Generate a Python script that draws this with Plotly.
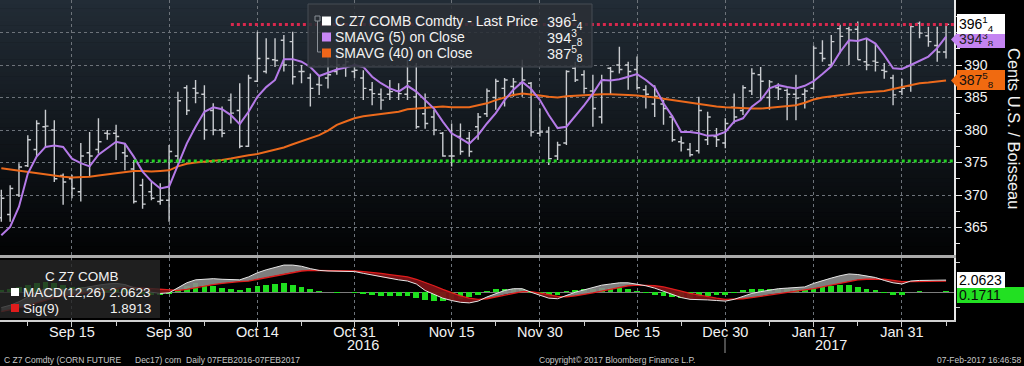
import pandas as pd
import plotly.graph_objects as go

# ---------------- data ----------------
holidays = ["2016-09-05", "2016-11-24", "2016-12-26", "2017-01-02", "2017-01-16"]
dates = [d for d in pd.bdate_range("2016-09-02", "2017-02-07")
         if d.strftime("%Y-%m-%d") not in holidays]
date_keys = [d.strftime("%Y-%m-%d") for d in dates]

opens = [366.5, 367, 370, 374.5, 377, 380.5, 380, 373,
         372.5, 370.5, 376.5, 377, 379.5, 379.5, 376.5, 374, 371.5, 370.5,
         369, 369.2, 376, 386.5, 386.4, 385.5, 383, 380, 384.6, 383,
         377.5, 387.5, 389, 390.8, 393.8, 393.6, 389, 388, 387, 388,
         389, 390, 389, 388, 386.2, 385.5, 385.5, 386, 385.5, 385.1,
         382.5, 382, 379.5, 376, 379, 378.7, 380.5, 382.5, 385, 386.4,
         386.7, 387.2, 387.2, 379.5, 379.7, 376, 378, 389.5, 388.5, 386,
         382, 389.5, 390, 390, 389.3, 386.2, 384, 384, 382, 378.2,
         377, 376.8, 378.5, 379, 378, 383.5, 383, 386, 388.5, 385,
         386.5, 386.1, 385.5, 385.5, 386.4, 391.8, 390, 395.6, 395.6, 395.5,
         390.5, 390.6, 389.2, 388, 385.9, 386.8, 396.4, 394.5, 393, 392]
highs = [370.8, 371.5, 374.9, 379.2, 381.5, 383.1, 381.5, 373.3,
         373.1, 378, 379.7, 381.8, 380, 380.8, 378, 375.4, 372.5, 372,
         371.8, 377.7, 385.9, 386.9, 387.7, 386.9, 384.1, 383.6, 385.6, 387.2,
         388.5, 395.1, 394.1, 394.1, 394.6, 395.1, 390, 388.7, 388.2, 392.3,
         392, 391.3, 390.3, 389.2, 387.4, 386.4, 387.7, 387.2, 390.8, 390.3,
         385.6, 383.1, 379.7, 381, 381, 379.7, 382.6, 386.4, 387.9, 388,
         388, 390.8, 387.4, 383.3, 380.5, 378.2, 389.2, 390.5, 389.2, 388.5,
         388.5, 389.7, 392.8, 390.5, 391.3, 386.9, 386.9, 384.6, 382.3, 379,
         378, 385.1, 382.8, 380.3, 381.8, 385.6, 386.9, 389.5, 389.7, 387.7,
         387.2, 386.4, 388.5, 386.4, 393, 393.8, 394.6, 396.2, 395.9, 396.7,
         394.1, 393.3, 390.3, 388.5, 387.9, 396.2, 396.7, 395.9, 395.9, 396.4]
lows = [365.9, 365.9, 369.7, 374.3, 375.9, 377.4, 372, 368.5,
        369.5, 369, 372.8, 376.4, 378.5, 375.4, 373.8, 368.7, 367.9, 369.2,
        368.5, 365.9, 374.9, 382.3, 384.1, 378.5, 379.2, 378.9, 381, 377.2,
        377.4, 387.4, 388.7, 389.7, 389, 387, 387.2, 383.6, 385.4, 386.4,
        388.5, 388.2, 388, 384.6, 383.8, 383.1, 384.6, 384.6, 384.6, 380.2,
        380.2, 379.2, 375.9, 374.4, 376.2, 375.9, 378.5, 382, 383.1, 383.6,
        385.1, 385.1, 379, 379, 374.6, 375.4, 377.7, 387.4, 385.6, 380.5,
        381, 385.4, 388.7, 386.2, 386.2, 383.3, 382, 380.8, 378.2, 376.7,
        375.9, 376.4, 377.7, 377.4, 377.2, 381, 382.3, 385.4, 384.6, 383.1,
        384.6, 381.5, 381.5, 383.3, 386.2, 390.5, 389.7, 391.8, 390, 390.8,
        389.2, 389, 387.9, 383.8, 385.4, 385.9, 394.1, 392.8, 390.5, 391]
closes = [369.5, 371, 374.3, 378.5, 381, 380.6, 372.5, 372,
          371, 376, 376, 378.2, 379.4, 379, 376, 369, 368.6, 369.5,
          369.2, 376.7, 384.5, 383, 385.7, 380, 380, 379.5, 382.6, 377.5,
          388, 391, 391, 390.7, 390, 388.2, 389, 386.4, 386.9, 388.5,
          390, 390.5, 389.2, 386.4, 385.6, 384.6, 385.9, 385.6, 387.5, 380.5,
          381, 380, 376, 376, 376.7, 376.7, 382, 386, 387.5, 387.7,
          387.4, 387.7, 379.7, 379.7, 375.6, 377.7, 389, 387.7, 386.4, 383.3,
          387.7, 389, 389.3, 389, 386.5, 385.5, 385.2, 383.3, 378.5, 378,
          376.2, 383, 382, 378.5, 381, 382, 386.5, 388.7, 387.5, 387.4,
          386.3, 385.5, 384.9, 386, 392.6, 391, 393.6, 394.4, 395.4, 390.8,
          390, 390.4, 389, 385.4, 386.4, 395.9, 394.9, 393.6, 392, 396.25]
sma5 = [363.8, 365.1, 368.2, 373.3, 375.9, 377.4, 377.6, 377.4,
        375.6, 374.9, 374.4, 376.2, 377.2, 378.2, 377.9, 375.9, 373.6, 372.1,
        371, 371.3, 374.6, 377.9, 380.5, 382.8, 383.5, 383.2, 382.3, 380.9,
        382.8, 385.1, 386.6, 387.7, 390.9, 390.9, 390.5, 389.7, 388.3, 388.8,
        389.3, 389.6, 390, 389.7, 388.2, 387.2, 386.4, 385.9, 386.8, 385.9,
        384.6, 383.3, 381.3, 379.5, 378.7, 377.9, 379.2, 381, 382.6, 384.6,
        386.2, 387.4, 386.3, 384.6, 382.3, 380.3, 380.5, 382.1, 383.8, 385.6,
        387.7, 387.6, 387.8, 388.2, 388.6, 387.7, 386.6, 384.1, 382.1, 379.7,
        379.7, 379.5, 379.1, 379.2, 379.7, 381.3, 381.8, 383.6, 384.6, 386.4,
        386.9, 386.6, 386.4, 386.8, 387.5, 388.6, 389.8, 392, 393.8, 393.7,
        394.1, 393.3, 391.5, 389.5, 389.4, 390, 390.6, 391.3, 392.6, 394.375]
sma40 = [374.1, 373.9, 373.7, 373.5, 373.3, 373.1, 372.9, 372.8,
         372.7, 372.7, 372.8, 373, 373.2, 373.4, 373.6, 373.7, 373.7, 373.6,
         373.7, 373.8, 374.4, 374.8, 375, 375.1, 375.2, 375.4, 375.6, 375.9,
         376.1, 376.3, 376.6, 376.9, 377.3, 377.8, 378.3, 378.7, 379.2, 379.9,
         380.8, 381.3, 381.8, 382.1, 382.3, 382.5, 382.6, 382.8, 383.2, 383.3,
         383.5, 383.6, 383.6, 383.5, 383.5, 383.5, 383.8, 384.1, 384.6, 385,
         385.4, 385.6, 385.5, 385.3, 385.1, 385, 385.2, 385.3, 385.4, 385.5,
         385.5, 385.5, 385.5, 385.4, 385.3, 385.2, 385, 384.8, 384.6, 384.4,
         384.1, 383.9, 383.7, 383.6, 383.5, 383.4, 383.3, 383.3, 383.3, 383.4,
         383.5, 383.6, 383.8, 384.2, 384.7, 385, 385.2, 385.4, 385.5, 385.7,
         385.8, 385.9, 386, 386.3, 386.6, 387, 387.2, 387.3, 387.5, 387.625]
macd = [-2.6, -2.2, -1.6, -0.8, 0.0, 0.6, 0.6, 0.5,
        0.4, 0.7, 0.9, 1.2, 1.4, 1.5, 1.3, 0.8, 0.3, 0.0,
        -0.2, -0.1, 0.8, 1.6, 2.1, 2.2, 2.3, 2.2, 2.2, 2.1,
        2.6, 3.3, 3.8, 4.2, 4.6, 4.6, 4.4, 4.0, 3.7, 3.6,
        3.6, 3.6, 3.5, 3.2, 2.9, 2.6, 2.3, 2.1, 1.9, 1.4,
        0.3, -0.4, -1.0, -1.4, -1.7, -1.8, -1.5, -0.8, -0.2, 0.3,
        0.6, 0.6, 0.0, -0.5, -1.0, -1.1, -0.5, 0.0, 0.4, 0.8,
        1.2, 1.4, 1.6, 1.6, 1.4, 1.1, 0.7, 0.2, -0.4, -0.9,
        -1.2, -1.2, -1.3, -1.4, -1.5, -1.2, -0.7, -0.2, 0.1, 0.4,
        0.6, 0.7, 0.8, 0.9, 1.5, 2.0, 2.4, 2.8, 3.1, 3.0,
        2.8, 2.5, 2.0, 1.6, 1.4, 1.9, 2.0, 2.0, 2.0, 2.0623]
signal = [-3.3, -3.0, -2.7, -2.3, -1.8, -1.3, -0.9, -0.6,
          -0.4, -0.2, 0.0, 0.3, 0.5, 0.7, 0.8, 0.8, 0.7, 0.55,
          0.4, 0.3, 0.3, 0.5, 0.8, 1.1, 1.3, 1.5, 1.7, 1.8,
          1.9, 2.2, 2.5, 2.8, 3.1, 3.4, 3.6, 3.7, 3.7, 3.7,
          3.7, 3.6, 3.6, 3.5, 3.4, 3.2, 3.0, 2.8, 2.6, 2.2,
          1.7, 1.1, 0.5, -0.1, -0.6, -1.0, -1.2, -1.1, -0.8, -0.4,
          -0.1, 0.1, 0.1, -0.1, -0.4, -0.7, -0.8, -0.6, -0.4, -0.1,
          0.2, 0.5, 0.8, 1.1, 1.2, 1.2, 1.1, 0.9, 0.6, 0.2,
          -0.2, -0.5, -0.8, -1.0, -1.2, -1.2, -1.1, -0.9, -0.7, -0.4,
          -0.2, 0.0, 0.2, 0.4, 0.6, 0.9, 1.2, 1.5, 1.8, 2.1,
          2.2, 2.2, 2.2, 2.0, 1.8, 1.8, 1.85, 1.9, 1.9, 1.8913]
hist = [0.3, 0.6, 0.9, 1.2, 1.5, 1.7, 1.5, 1.2,
        0.9, 0.9, 0.9, 0.9, 0.9, 0.8, 0.5, 0.1, -0.3, -0.5,
        -0.5, -0.3, 0.5, 1.1, 1.6, 1.3, 1.0, 0.8, 0.6, 0.3,
        0.7, 1.1, 1.3, 1.4, 1.5, 1.3, 0.9, 0.5, 0.2, 0.0,
        -0.05, 0.0, -0.05, -0.3, -0.5, -0.6, -0.7, -0.7, -0.7, -1.0,
        -1.3, -1.4, -1.4, -1.3, -1.1, -0.8, -0.4, 0.2, 0.5, 0.6,
        0.6, 0.5, -0.1, -0.4, -0.6, -0.5, 0.2, 0.4, 0.5, 0.6,
        0.7, 0.7, 0.7, 0.5, 0.2, -0.1, -0.4, -0.6, -0.8, -0.9,
        -0.9, -0.8, -0.6, -0.5, -0.4, -0.1, 0.3, 0.5, 0.6, 0.6,
        0.6, 0.6, 0.5, 0.5, 0.8, 1.0, 1.1, 1.2, 1.3, 0.9,
        0.6, 0.3, -0.1, -0.4, -0.4, 0.1, 0.15, 0.1, 0.1, 0.1711]

tick_dates = ["2016-09-15", "2016-09-30", "2016-10-14", "2016-10-31", "2016-11-15",
              "2016-11-30", "2016-12-15", "2016-12-30", "2017-01-17", "2017-01-31"]
tick_labels = ["Sep 15", "Sep 30", "Oct 14", "Oct 31", "Nov 15",
               "Nov 30", "Dec 15", "Dec 30", "Jan 17", "Jan 31"]
minor_dates = ["2016-09-08", "2016-09-22", "2016-10-06", "2016-10-21", "2016-11-07",
               "2016-11-22", "2016-12-07", "2016-12-22", "2017-01-09", "2017-01-24", "2017-02-07"]
year_labels = ["2016", "2017"]
year_label_dates = ["2016-11-01", "2017-01-19"]
price_ticks = [365, 370, 375, 380, 385, 390, 395]
price_minor = [362.5, 367.5, 372.5, 377.5, 382.5, 387.5, 392.5, 397.5]

resistance_level = 396.25
resistance_from = "2016-10-11"
support_level = 375.25
support_from = "2016-09-26"

# ---------------- helpers ----------------
xs = list(range(len(dates)))
pos = {k: i for i, k in enumerate(date_keys)}
X_RANGE = [-0.15, len(dates) - 0.1]
Y_RANGE = [360.77, 400.0]
M_RANGE = [-4.7, 5.8]

W_PLOT, H_PLOT = 954, 320


def px(xp):
    return xp / W_PLOT


def py(yp):
    return (H_PLOT - yp) / H_PLOT


def frac(v):
    whole = int(v)
    e = round((v - whole) * 8)
    if e == 0:
        return f"{whole}"
    n, d = e, 8
    while n % 2 == 0:
        n //= 2
        d //= 2
    return f"{whole}<sup>{n}</sup><sub>{d}</sub>"


FONT = "Liberation Sans, Arial, sans-serif"
WHITE = "#f2f2f2"
PURPLE = "#b57ae8"
ORANGE = "#ec6a1c"

fig = go.Figure()

# OHLC bars
fig.add_trace(go.Ohlc(
    x=xs, open=opens, high=highs, low=lows, close=closes,
    increasing=dict(line=dict(color="#c9ccd0", width=1.4)),
    decreasing=dict(line=dict(color="#c9ccd0", width=1.4)),
    tickwidth=0.35, hoverinfo="skip", showlegend=False,
    xaxis="x", yaxis="y"))

fig.add_trace(go.Scatter(x=xs, y=sma40, mode="lines",
                         line=dict(color=ORANGE, width=2), hoverinfo="skip",
                         showlegend=False, xaxis="x", yaxis="y"))
fig.add_trace(go.Scatter(x=xs, y=sma5, mode="lines",
                         line=dict(color=PURPLE, width=2), hoverinfo="skip",
                         showlegend=False, xaxis="x", yaxis="y"))

# support / resistance dotted lines
fig.add_trace(go.Scatter(x=[pos[resistance_from], X_RANGE[1]],
                         y=[resistance_level, resistance_level], mode="lines",
                         line=dict(color="#d8284e", width=3, dash="dot"),
                         hoverinfo="skip", showlegend=False, xaxis="x", yaxis="y"))
fig.add_trace(go.Scatter(x=[pos[support_from], X_RANGE[1]],
                         y=[support_level, support_level], mode="lines",
                         line=dict(color="#22d422", width=3, dash="dot"),
                         hoverinfo="skip", showlegend=False, xaxis="x", yaxis="y"))

# MACD fills between MACD and signal
up_x, up_y, dn_x, dn_y = [], [], [], []
for k in range(len(xs) - 1):
    x0, x1 = xs[k], xs[k + 1]
    a0, a1, b0, b1 = macd[k], macd[k + 1], signal[k], signal[k + 1]
    d0, d1 = a0 - b0, a1 - b1
    pieces = []
    if d0 * d1 < 0:
        t = d0 / (d0 - d1)
        xc = x0 + t * (x1 - x0)
        yc = a0 + t * (a1 - a0)
        pieces.append((x0, xc, a0, yc, b0, yc, d0))
        pieces.append((xc, x1, yc, a1, yc, b1, d1))
    else:
        pieces.append((x0, x1, a0, a1, b0, b1, d0 + d1))
    for (p0, p1, q0, q1, r0, r1, d) in pieces:
        tx = [p0, p1, p1, p0, p0, None]
        ty = [q0, q1, r1, r0, q0, None]
        if d >= 0:
            up_x += tx
            up_y += ty
        else:
            dn_x += tx
            dn_y += ty

fig.add_trace(go.Scatter(x=up_x, y=up_y, mode="lines", fill="toself",
                         fillcolor="rgba(140,140,140,0.9)", line=dict(width=0),
                         hoverinfo="skip", showlegend=False, xaxis="x2", yaxis="y2"))
fig.add_trace(go.Scatter(x=dn_x, y=dn_y, mode="lines", fill="toself",
                         fillcolor="rgba(125,18,22,0.95)", line=dict(width=0),
                         hoverinfo="skip", showlegend=False, xaxis="x2", yaxis="y2"))
fig.add_trace(go.Bar(x=xs, y=hist, marker=dict(color="#1fe01f", line=dict(width=0)),
                     width=0.65, hoverinfo="skip", showlegend=False,
                     xaxis="x2", yaxis="y2"))
fig.add_trace(go.Scatter(x=xs, y=signal, mode="lines",
                         line=dict(color="#e01c1c", width=1.3), hoverinfo="skip",
                         showlegend=False, xaxis="x2", yaxis="y2"))
fig.add_trace(go.Scatter(x=xs, y=macd, mode="lines",
                         line=dict(color="#e6e6e6", width=1), hoverinfo="skip",
                         showlegend=False, xaxis="x2", yaxis="y2"))

# ---------------- shapes ----------------
shapes = []
# gradient background of the price panel
N = 60
top, bot = py(0), py(255)
c_top = (34, 44, 54)
c_bot = (2, 3, 4)
for s in range(N):
    t = (s + 0.5) / N
    col = tuple(int(round(c_top[j] + (c_bot[j] - c_top[j]) * t)) for j in range(3))
    y1 = top - (top - bot) * s / N
    y0 = top - (top - bot) * (s + 1) / N
    shapes.append(dict(type="rect", xref="paper", yref="paper", x0=0, x1=1,
                       y0=y0 - 0.0005, y1=y1 + 0.0005, layer="below",
                       fillcolor=f"rgb{col}", line=dict(width=0)))

# main legend box
shapes.append(dict(type="rect", xref="paper", yref="paper",
                   x0=px(308), x1=px(592), y0=py(67), y1=py(4),
                   fillcolor="rgba(42,47,54,0.88)", line=dict(color="#474d55", width=1)))
# legend tree icon
shapes.append(dict(type="rect", xref="paper", yref="paper",
                   x0=px(315), x1=px(320), y0=py(21), y1=py(16),
                   fillcolor="rgba(0,0,0,0)", line=dict(color="#8a8f96", width=1)))
shapes.append(dict(type="line", xref="paper", yref="paper",
                   x0=px(317.5), x1=px(317.5), y0=py(21), y1=py(52),
                   line=dict(color="#8a8f96", width=1)))
shapes.append(dict(type="line", xref="paper", yref="paper",
                   x0=px(317.5), x1=px(321), y0=py(52), y1=py(52),
                   line=dict(color="#8a8f96", width=1)))
for yc, col in [(21, "#ffffff"), (37, "#c887f5"), (53, "#f0661a")]:
    shapes.append(dict(type="rect", xref="paper", yref="paper",
                       x0=px(322), x1=px(331), y0=py(yc + 4.5), y1=py(yc - 4.5),
                       fillcolor=col, line=dict(width=0)))

# MACD legend box
shapes.append(dict(type="rect", xref="paper", yref="paper",
                   x0=px(0), x1=px(160), y0=py(318), y1=py(260),
                   fillcolor="rgba(38,38,38,0.82)", line=dict(width=0)))
for yc, col in [(292, "#ffffff"), (308, "#e01c1c")]:
    shapes.append(dict(type="rect", xref="paper", yref="paper",
                       x0=px(11), x1=px(19), y0=py(yc + 4), y1=py(yc - 4),
                       fillcolor=col, line=dict(width=0)))

# year divider tick
shapes.append(dict(type="line", xref="paper", yref="paper",
                   x0=px(725), x1=px(725), y0=py(338), y1=py(353),
                   line=dict(color="#9a9a9a", width=1)))

# pointed tips on the left of the coloured value boxes
for yv, col, ys in [(sma40[-1], "#f06a10", 0), (sma5[-1], "#c484f2", -3)]:
    shapes.append(dict(type="path", xref="paper", yref="y", ysizemode="pixel",
                       yanchor=yv,
                       path=f"M {px(951)},{ys} L {px(957.5)},{ys - 7} L {px(957.5)},{ys + 7} Z",
                       fillcolor=col, line=dict(width=0)))

# ---------------- annotations ----------------
ann = []


def text(xp_, yp_, s, size, color=WHITE, anchor="left", family=FONT, **kw):
    ann.append(dict(x=px(xp_), y=py(yp_), xref="paper", yref="paper", text=s,
                    showarrow=False, xanchor=anchor, yanchor="middle",
                    font=dict(family=family, size=size, color=color), **kw))


# main legend
text(333, 21, "C Z7 COMB Comdty - Last Price", 14)
text(545, 22, frac(closes[-1]), 14.5)
text(333, 37, "SMAVG (5) on Close", 14)
text(545, 38, frac(sma5[-1]), 14.5)
text(333, 53, "SMAVG (40) on Close", 14)
text(545, 54, frac(sma40[-1]), 14.5)

# MACD legend
text(82, 276, "C Z7 COMB", 13.5, anchor="center")
text(21, 292, f"MACD(12,26) {macd[-1]:.4f}", 13.5)
text(21, 308, "Sig(9)", 13.5)
text(153, 308, f"{signal[-1]:.4f}", 13.5, anchor="right")

# y axis title
ann.append(dict(x=px(1014), y=py(128), xref="paper", yref="paper",
                text="Cents U.S. / Boisseau", textangle=90, showarrow=False,
                xanchor="center", yanchor="middle",
                font=dict(family=FONT, size=16.5, color=WHITE)))

# year labels
for lab, d in zip(year_labels, year_label_dates):
    ann.append(dict(x=pos[d], y=py(345), xref="x2", yref="paper", text=lab,
                    showarrow=False, xanchor="center", yanchor="middle",
                    font=dict(family=FONT, size=14.5, color=WHITE)))

# footer
text(2, 360, "C Z7 Comdty (CORN FUTURE", 8.5, color="#c8c8c8")
text(133, 360, "Dec17) corn  Daily 07FEB2016-07FEB2017", 8.5, color="#c8c8c8")
text(537, 360, "Copyright\u00a9 2017 Bloomberg Finance L.P.", 8.5, color="#c8c8c8")
text(1023, 360, "07-Feb-2017 16:46:58", 8.5, color="#c8c8c8", anchor="right")


# right-hand value boxes
def box(yval, yref, s, bg, fg, width, yshift=0, height=16):
    ann.append(dict(x=px(957), y=yval, xref="paper", yref=yref, text=s,
                    showarrow=False, xanchor="left", yanchor="middle",
                    yshift=yshift, bgcolor=bg, bordercolor=bg, borderpad=1,
                    width=width, height=height, align="left",
                    font=dict(family=FONT, size=14, color=fg)))


box(sma40[-1], "y", frac(sma40[-1]), "#f06a10", "#111111", 44, height=16)
box(sma5[-1], "y", frac(sma5[-1]), "#c484f2", "#222222", 44, yshift=-3, height=13)
box(closes[-1], "y", frac(closes[-1]), "#ffffff", "#000000", 44, height=16)
box(hist[-1], "y2", f"{hist[-1]:.4f}", "#22e022", "#0a0a0a", 63, yshift=-4, height=12)
box(macd[-1], "y2", f"{macd[-1]:.4f}", "#ffffff", "#000000", 44, height=12)

tickvals_main = [pos[d] for d in tick_dates]
minor_vals = [pos[d] for d in minor_dates]

grid = "#6d737a"
fig.update_layout(
    width=1024, height=366,
    margin=dict(l=0, r=70, t=0, b=46, pad=0),
    paper_bgcolor="#000000", plot_bgcolor="#000000",
    showlegend=False, bargap=0,
    hovermode=False,
    xaxis=dict(domain=[0, 1], range=X_RANGE, anchor="y",
               tickmode="array", tickvals=tickvals_main, showticklabels=False,
               ticks="", showgrid=True, gridcolor=grid, griddash="dot", gridwidth=1,
               showline=True, linecolor="#a9a9a9", linewidth=3,
               zeroline=False, rangeslider=dict(visible=False), fixedrange=True),
    yaxis=dict(domain=[py(255), 1], range=Y_RANGE, side="right", anchor="x",
               tickmode="array", tickvals=price_ticks,
               ticktext=[str(v) for v in price_ticks],
               ticks="outside", ticklen=6, tickcolor="#e8e8e8", tickwidth=1,
               minor=dict(tickvals=price_minor, ticks="outside", ticklen=4,
                          tickcolor="#e8e8e8", showgrid=False),
               tickfont=dict(family=FONT, size=14, color=WHITE),
               showgrid=True, gridcolor=grid, griddash="dot", gridwidth=1,
               showline=True, linecolor="#e8e8e8", linewidth=1.5,
               zeroline=False, fixedrange=True),
    xaxis2=dict(domain=[0, 1], range=X_RANGE, anchor="y2",
                tickmode="array", tickvals=tickvals_main, ticktext=tick_labels,
                ticks="outside", ticklen=5, tickcolor="#cfcfcf",
                ticklabelstandoff=-7,
                minor=dict(tickvals=minor_vals, ticks="outside", ticklen=4,
                           tickcolor="#cfcfcf", showgrid=False),
                tickfont=dict(family=FONT, size=14.5, color=WHITE),
                showgrid=True, gridcolor=grid, griddash="dot", gridwidth=1,
                showline=True, linecolor="#d0d0d0", linewidth=1.5,
                zeroline=False, fixedrange=True),
    yaxis2=dict(domain=[0, py(258)], range=M_RANGE, side="right", anchor="x2",
                tickmode="array", tickvals=[-2.5, 5], showticklabels=False,
                ticks="outside", ticklen=4, tickcolor="#d0d0d0",
                showgrid=False, zeroline=True, zerolinecolor="#7d7d7d",
                zerolinewidth=1, showline=True, linecolor="#e8e8e8", linewidth=1.5,
                fixedrange=True),
    shapes=shapes, annotations=ann,
)

fig.write_html("out.html", include_plotlyjs=True,
               config={"displayModeBar": False, "staticPlot": True},
               post_script="document.body.style.margin='0';document.body.style.overflow='hidden';")
